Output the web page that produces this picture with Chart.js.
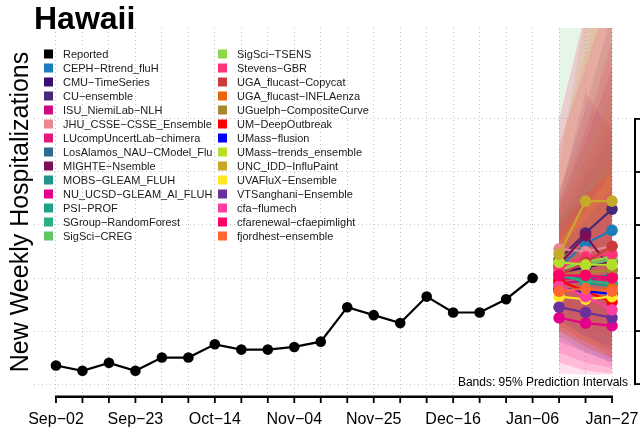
<!DOCTYPE html>
<html><head><meta charset="utf-8">
<script src="https://cdn.jsdelivr.net/npm/chart.js@4.4.1/dist/chart.umd.min.js"></script>
<style>html,body{margin:0;padding:0;background:#fff}#wrap{width:640px;height:432px}</style>
</head><body><div id="wrap"><canvas id="c" width="640" height="432"></canvas></div>
<script>
// ---------- data ----------
const xLabels = ['Sep-02','Sep-09','Sep-16','Sep-23','Sep-30','Oct-07','Oct-14','Oct-21','Oct-28',
  'Nov-04','Nov-11','Nov-18','Nov-25','Dec-02','Dec-09','Dec-16','Dec-23','Dec-30',
  'Jan-06','Jan-13','Jan-20','Jan-27'];
const reported = [7,5,8,5,10,10,15,13,13,14,16,29,26,23,33,27,27,32,40];
const yTicks = [0,20,40,60,80,100];
const forecastWeeks = [19,20,21];
const models = ['CEPH-Rtrend_fluH','CMU-TimeSeries','CU-ensemble','ISU_NiemiLab-NLH',
  'JHU_CSSE-CSSE_Ensemble','LUcompUncertLab-chimera','LosAlamos_NAU-CModel_Flu','MIGHTE-Nsemble',
  'MOBS-GLEAM_FLUH','NU_UCSD-GLEAM_AI_FLUH','PSI-PROF','SGroup-RandomForest','SigSci-CREG',
  'SigSci-TSENS','Stevens-GBR','UGA_flucast-Copycat','UGA_flucast-INFLAenza','UGuelph-CompositeCurve',
  'UM-DeepOutbreak','UMass-flusion','UMass-trends_ensemble','UNC_IDD-InfluPaint','UVAFluX-Ensemble',
  'VTSanghani-Ensemble','cfa-flumech','cfarenewal-cfaepimlight','fjordhest-ensemble'];
const modelColors = ['#1B7DBB','#3B0F70','#482878','#CD0A80','#E8888F','#E21A7D','#2D6A8F','#7A1157',
  '#20958A','#E3008A','#1FA187','#2AAF7F','#5DC863','#8DD84A','#FF3377','#CC3B3B','#E8650C','#A8892F',
  '#FF0000','#0000FF','#B5DE2B','#C8A82A','#FDE725','#6A2F9A','#FF3EA2','#FF0066','#FF6633'];
const medians = [[44,53,58],[42,44,46],[47,57,66],[38,39,40],[51,50,52],[39,41,38],[40,40,41],[45,56,43],
  [42,38,37],[25,23,22],[36,35,34],[41,39,38],[45,45,47],[43,46,48],[44,48,49],[41,46,52],[35,35,36],
  [41,42,43],[39,35,31],[36,35,34],[46,45,45],[49,69,69],[33,32,33],[29,27,25],[37,33,28],[41,41,40],[35,36,35]];
const lower95 = [[28,26,24],[30,25,20],[30,30,30],[22,16,12],[34,28,22],[20,14,9],[24,18,14],[28,26,18],
  [26,20,16],[12,8,6],[18,12,8],[24,18,14],[20,16,12],[26,22,18],[28,24,20],[26,22,18],[20,14,10],
  [26,20,14],[22,16,10],[24,18,13],[22,16,10],[30,34,30],[18,14,10],[16,12,8],[4,3.5,3.5],[8,5,4],[20,16,12]];
const upper95 = [[66,90,120],[58,70,85],[72,104,140],[60,78,96],[74,96,125],[68,92,118],[62,80,100],[70,110,95],
  [62,70,78],[44,50,56],[60,76,92],[64,74,84],[145,160,170],[68,88,110],[66,84,104],[68,96,130],[56,70,86],
  [64,84,110],[60,72,80],[52,62,74],[90,125,160],[82,140,170],[54,66,80],[48,56,66],[90,120,150],[100,140,180],[56,68,82]];

// ---------- helpers ----------
function rgba(hex, a){
  const n = parseInt(hex.slice(1),16);
  return 'rgba(' + ((n>>16)&255) + ',' + ((n>>8)&255) + ',' + (n&255) + ',' + a + ')';
}
const dash = s => s.replace(/-/g,'\u2212');
const FONT = '"Liberation Sans", Arial, Helvetica, sans-serif';
Chart.defaults.font.family = FONT;

// ---------- datasets ----------
const datasets = [{
  label:'Reported', data: reported.map((v,i)=>({x:i,y:v})),
  borderColor:'#000', backgroundColor:'#000', borderWidth:2.2, pointRadius:5.3,
  pointBorderWidth:0, fill:false, order:0
}];
models.forEach((m,k)=>{
  datasets.push({label:m+' lower', data: forecastWeeks.map((w,j)=>({x:w,y:lower95[k][j]})),
    borderWidth:0, borderColor:'rgba(0,0,0,0)', pointRadius:0, fill:false, order:200-k});
  datasets.push({label:m+' upper', data: forecastWeeks.map((w,j)=>({x:w,y:upper95[k][j]})),
    borderWidth:0, borderColor:'rgba(0,0,0,0)', pointRadius:0, fill:'-1',
    backgroundColor: rgba(modelColors[k],0.16), order:200-k});
  datasets.push({label:m, data: forecastWeeks.map((w,j)=>({x:w,y:medians[k][j]})),
    borderColor: modelColors[k], backgroundColor: modelColors[k], borderWidth:2.2,
    pointRadius:5.8, pointBorderWidth:0, fill:false, order:100-k});
});

// ---------- decorations: axis lines + ticks, legend, note ----------
const decor = {
  id:'decor',
  afterDraw(chart){
    const {ctx, chartArea:ca, scales} = chart;
    const xs = scales.x, ys = scales.y;
    ctx.save();
    ctx.setLineDash([]);
    ctx.globalAlpha = 1;
    ctx.globalCompositeOperation = 'source-over';
    ctx.fillStyle = '#000';
    // bottom axis
    const yAx = ca.bottom;
    const x0 = xs.getPixelForValue(0), x1 = xs.getPixelForValue(xLabels.length-1);
    ctx.fillRect(x0-1, yAx-0.5, (x1-x0)+2, 2.5);
    xLabels.forEach((_,i)=>{ const px = xs.getPixelForValue(i); ctx.fillRect(px-0.9, yAx, 1.8, 7); });
    // right axis
    const xAx = ca.right;
    const yTop = ys.getPixelForValue(yTicks[yTicks.length-1]), yBot = ys.getPixelForValue(yTicks[0]);
    ctx.fillRect(xAx, yTop-1, 2, (yBot-yTop)+2);
    yTicks.forEach(v=>{ const py = ys.getPixelForValue(v); ctx.fillRect(xAx, py-0.9, 8, 1.8); });
    // legend
    const items = [{label:'Reported', color:'#000'}].concat(models.map((m,k)=>({label:m,color:modelColors[k]})));
    const perCol = Math.ceil(items.length/2);
    ctx.font = '11px ' + FONT;
    ctx.textBaseline = 'middle'; ctx.textAlign = 'left';
    items.forEach((it,i)=>{
      const col = Math.floor(i/perCol), row = i%perCol;
      const sx = ca.left + 10 + col*174;
      const cy = ca.top + 26 + row*14;
      ctx.fillStyle = it.color;
      ctx.fillRect(sx, cy-4.5, 9, 9);
      ctx.fillStyle = '#1a1a1a';
      ctx.fillText(dash(it.label), sx+19, cy+0.5);
    });
    // note
    ctx.font = '12px ' + FONT;
    ctx.textAlign = 'right';
    ctx.fillStyle = '#000';
    ctx.fillText('Bands: 95% Prediction Intervals', ca.right - 6, ca.bottom - 13);
    ctx.restore();
  }
};

new Chart(document.getElementById('c'), {
  type:'line',
  data:{datasets},
  plugins:[decor],
  options:{
    responsive:false, animation:false, devicePixelRatio:1, events:[],
    layout:{padding:{left:0,right:0,top:0,bottom:4}},
    plugins:{
      legend:{display:false},
      tooltip:{enabled:false},
      title:{display:true, text:'Hawaii', align:'start', fullSize:false, color:'#000',
        font:{size:32, weight:'bold', lineHeight:1}, padding:{top:4,bottom:-8}}
    },
    scales:{
      x:{type:'linear', min:-0.83, max:21.83,
        afterBuildTicks(s){ s.ticks = xLabels.map((_,i)=>({value:i})); },
        afterFit(s){ s.paddingLeft = 0; s.paddingRight = 0; s.height = 32; },
        ticks:{autoSkip:false, maxRotation:0, padding:8, color:'#000', font:{size:16},
          callback:(v,i)=> (i%3===0 ? dash(xLabels[i]) : '')},
        grid:{color:'#c4c4c4', lineWidth:1, tickLength:6, tickColor:'rgba(0,0,0,0)'},
        border:{display:false, dash:[1,3]}
      },
      y:{type:'linear', position:'right', min:-4.5, max:134.3,
        afterBuildTicks(s){ s.ticks = yTicks.map(v=>({value:v})); },
        afterFit(s){ s.width = 6; },
        ticks:{display:false},
        grid:{color:'#c4c4c4', lineWidth:1, tickLength:6, tickColor:'rgba(0,0,0,0)'},
        border:{display:false, dash:[1,3]}
      },
      yl:{type:'linear', position:'left', min:-4.5, max:134.3,
        ticks:{display:false}, grid:{display:false, drawTicks:false, drawOnChartArea:false},
        border:{display:false},
        afterFit(s){ s.width = 34; },
        title:{display:true, text:'New Weekly Hospitalizations', color:'#000',
          font:{size:25, lineHeight:1}, padding:{top:9,bottom:0}}
      }
    }
  }
});
</script></body></html>
